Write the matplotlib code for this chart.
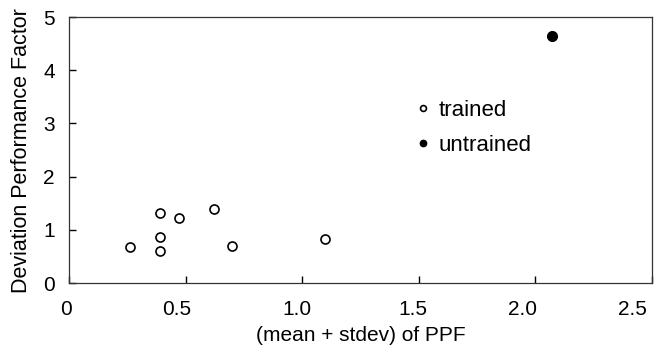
import matplotlib
matplotlib.use("Agg")
import matplotlib.pyplot as plt
import matplotlib.transforms as mtransforms

# dados
trained_x = [0.26, 0.39, 0.39, 0.39, 0.47, 0.62, 0.70, 1.10]
trained_y = [0.68, 1.31, 0.87, 0.61, 1.23, 1.40, 0.70, 0.83]
untrained_x = [2.07]
untrained_y = [4.65]

x_ticks = [0, 0.5, 1.0, 1.5, 2.0, 2.5]
x_labels = ["0", "0.5", "1.0", "1.5", "2.0", "2.5"]
y_ticks = [0, 1, 2, 3, 4, 5]

plt.rcParams["font.family"] = ["Liberation Sans", "DejaVu Sans"]

fig = plt.figure(figsize=(6.56, 3.47), dpi=100)
ax = fig.add_axes([0.105, 0.184, 0.889, 0.767])

ax.plot(trained_x, trained_y, "o", ms=6.5, mfc="white", mec="black", mew=1.2,
        linestyle="none", label="trained")
ax.plot(untrained_x, untrained_y, "o", ms=7, mfc="black", mec="black",
        linestyle="none", label="untrained")

ax.set_xlim(0, 2.5)
ax.set_ylim(0, 5)
ax.set_xticks(x_ticks)
ax.set_xticklabels(x_labels)
ax.set_yticks(y_ticks)
ax.tick_params(direction="in", length=5, width=1, labelsize=15,
               top=False, right=False)
ax.tick_params(axis="x", pad=12)
ax.tick_params(axis="y", pad=10)

# no original os rotulos do eixo x ficam um pouco deslocados para a esquerda
shifts = [-2, -6, -4, -4, -9, -14]
for lab, dx in zip(ax.get_xticklabels(), shifts):
    off = mtransforms.ScaledTranslation(dx / 72, 0, fig.dpi_scale_trans)
    lab.set_transform(lab.get_transform() + off)

for s in ax.spines.values():
    s.set_linewidth(0.9)
    s.set_color("#333333")

ax.set_xlabel("(mean + stdev) of PPF", fontsize=15, labelpad=5)
ax.set_ylabel("Deviation Performance Factor", fontsize=15.5, labelpad=8)

leg = ax.legend(loc="upper left", bbox_to_anchor=(0.579, 0.729), frameon=False,
                fontsize=16, handlelength=0.5, handletextpad=0.43,
                markerscale=0.65, labelspacing=0.62, borderpad=0)

plt.savefig("out.png", dpi=100)
